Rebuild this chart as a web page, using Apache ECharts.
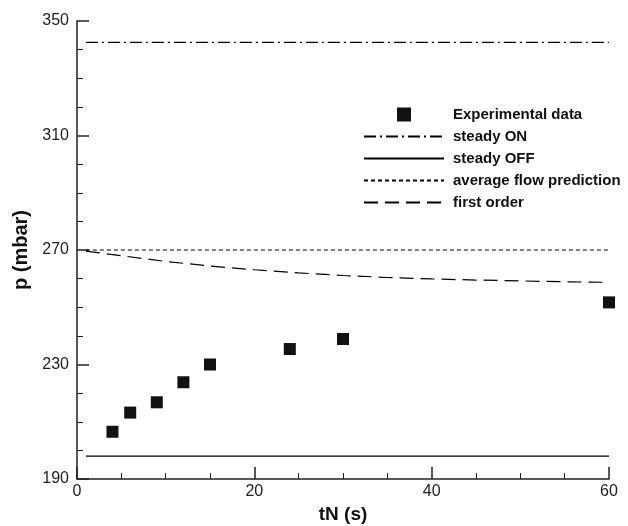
<!DOCTYPE html>
<html><head><meta charset="utf-8">
<script src="https://cdn.jsdelivr.net/npm/echarts@6/dist/echarts.min.js"></script>
<style>html,body{margin:0;padding:0;background:#fff}#c{width:628px;height:526px}</style>
</head><body><div id="c"></div>
<script>
const expX = [4, 6, 9, 12, 15, 24, 30, 60];
const expY = [206.5, 213.2, 216.8, 223.8, 230, 235.4, 238.9, 251.7];
const lineX = [1, 60];
const steadyOn = [342.5, 342.5];
const steadyOff = [198, 198];
const avgFlow = [270, 270];
const foX = [1, 5, 10, 15, 20, 25, 30, 35, 40, 45, 50, 55, 60];
const foY = [269.6, 268.0, 266.0, 264.4, 263.1, 262.0, 261.1, 260.4, 259.9, 259.5, 259.2, 258.9, 258.7];
const names = ['Experimental data', 'steady ON', 'steady OFF', 'average flow prediction', 'first order'];

const zip = (xs, ys) => xs.map((x, i) => [x, ys[i]]);
const font = 'Liberation Sans, Arial, Helvetica, sans-serif';
const chart = echarts.init(document.getElementById('c'), null, {renderer: 'canvas'});
const lineBase = (name, data, type) => ({
  name, type: 'line', data, symbol: 'none', silent: true,
  lineStyle: {color: '#000', width: 1.2, type}, itemStyle: {color: '#000'}
});
const hidden = {opacity: 0};
chart.setOption({
  animation: false,
  backgroundColor: '#fff',
  grid: {left: 77, right: 19, top: 21, bottom: 47, containLabel: false, outerBoundsMode: 'none'},
  xAxis: {
    type: 'value', min: 0, max: 60, interval: 20,
    name: 'tN (s)', nameLocation: 'middle', nameGap: 25,
    nameTextStyle: {fontFamily: font, fontWeight: 'bold', fontSize: 19, color: '#111'},
    axisLine: {lineStyle: {color: '#222', width: 1.5}},
    axisTick: {inside: true, length: 12, lineStyle: {color: '#222', width: 1.5}},
    minorTick: {show: true, splitNumber: 4, length: 6, lineStyle: {color: '#222', width: 1}},
    axisLabel: {fontFamily: font, fontSize: 16, color: '#222', margin: 5},
    splitLine: {show: false}
  },
  yAxis: {
    type: 'value', min: 190, max: 350, interval: 40,
    name: 'p (mbar)', nameLocation: 'middle', nameGap: 46, nameRotate: 90,
    nameTextStyle: {fontFamily: font, fontWeight: 'bold', fontSize: 20, color: '#111'},
    axisLine: {show: true, lineStyle: {color: '#222', width: 1.5}},
    axisTick: {show: true, inside: true, length: 12, lineStyle: {color: '#222', width: 1.5}},
    minorTick: {show: true, splitNumber: 4, length: 6, lineStyle: {color: '#222', width: 1}},
    axisLabel: {fontFamily: font, fontSize: 16, color: '#222', margin: 8},
    splitLine: {show: false}
  },
  legend: {
    orient: 'vertical', left: 358, top: 102, itemWidth: 80, itemHeight: 14, itemGap: 7,
    textStyle: {fontFamily: font, fontWeight: 'bold', fontSize: 15, lineHeight: 14, color: '#111', padding: [0,0,0,4]},
    data: [
      {name: names[0], icon: 'path://M0,0h10v10h-10z'},
      {name: names[1], itemStyle: hidden},
      {name: names[2], itemStyle: hidden},
      {name: names[3], itemStyle: hidden},
      {name: names[4], itemStyle: hidden}
    ]
  },
  series: [
    {name: names[0], type: 'scatter', data: zip(expX, expY), symbol: 'rect', symbolSize: 12,
     itemStyle: {color: '#111', opacity: 1}, silent: true},
    lineBase(names[1], zip(lineX, steadyOn), [12, 4, 2, 4]),
    lineBase(names[2], zip(lineX, steadyOff), 'solid'),
    lineBase(names[3], zip(lineX, avgFlow), [4, 3]),
    lineBase(names[4], zip(foX, foY), [14, 7])
  ]
});
</script></body></html>
